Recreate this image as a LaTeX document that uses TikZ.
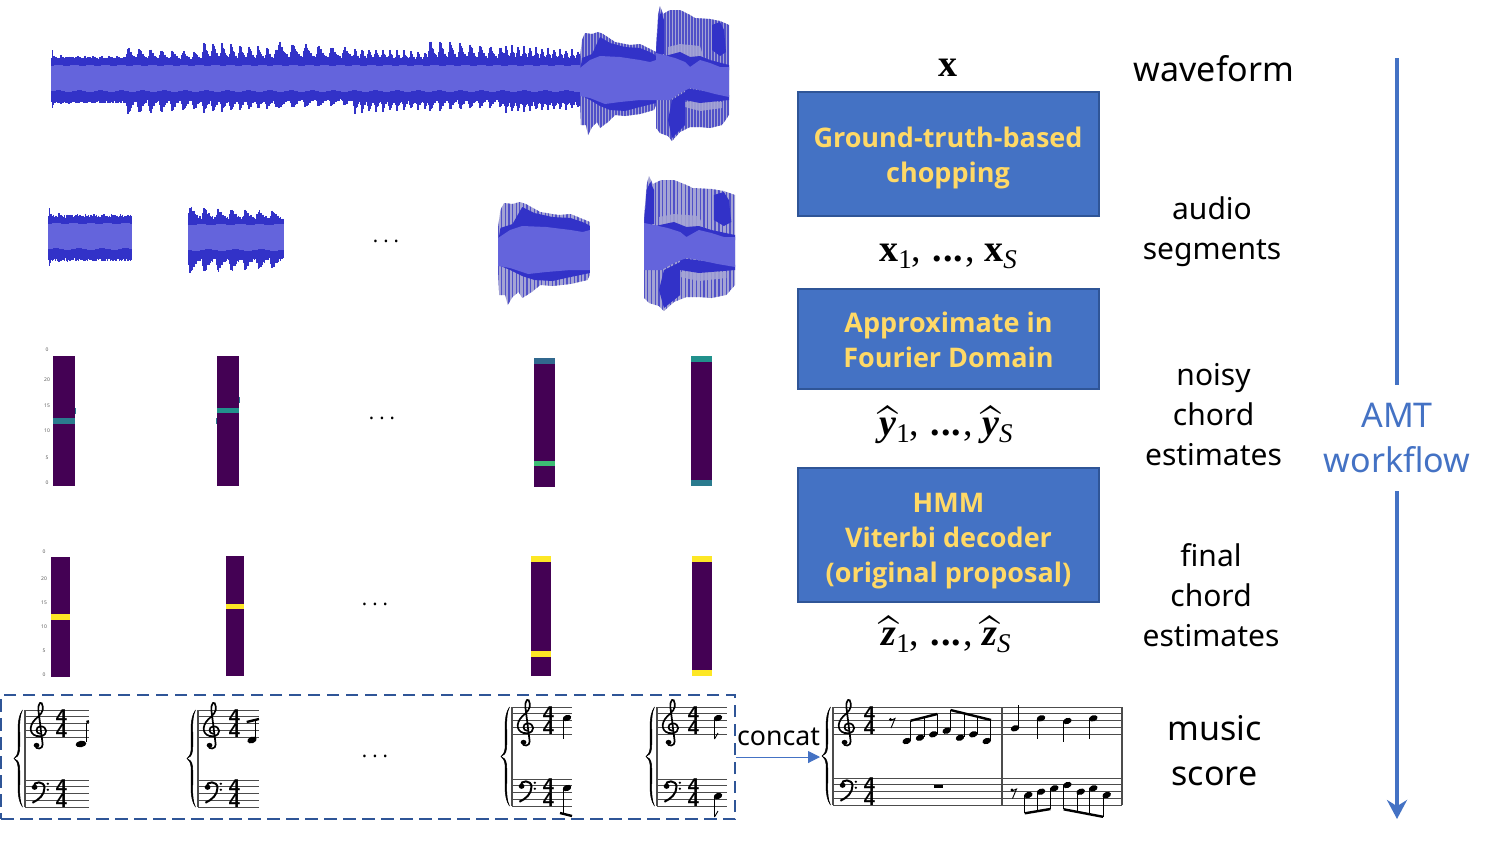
\documentclass[tikz,border=0pt]{standalone}
\usepackage{amsmath,bm}
\usepackage[no-math]{fontspec}
\setmainfont{Noto Sans}
\newfontfamily\numfont{Liberation Sans}
\newfontfamily\boxfont{Open Sans}
\newfontfamily\mfont{Liberation Serif}
\usetikzlibrary{arrows.meta}
\definecolor{wdark}{HTML}{3232C8}
\definecolor{wlight}{HTML}{6464DC}
\definecolor{wpale}{HTML}{A4A4D4}
\definecolor{wstripe}{HTML}{5050C8}
\definecolor{vpurple}{HTML}{440154}
\definecolor{vteal}{HTML}{21918C}
\definecolor{vcyan}{HTML}{2A7B8E}
\definecolor{vblue}{HTML}{31688E}
\definecolor{vgreen}{HTML}{3DBC74}
\definecolor{vyellow}{HTML}{FDE725}
\definecolor{boxblue}{HTML}{4472C4}
\definecolor{boxedge}{HTML}{2F5597}
\definecolor{boxtext}{HTML}{FFD966}
\tikzset{
  wavedark/.style={draw=wdark,line width=1.5pt},
  wavelit/.style={draw=wlight,line width=1.5pt},
  stripebar/.style={draw=wstripe,line width=1.3pt},
  stafflines/.style={draw=black!70,line width=.8pt},
  stemline/.style={draw=black,line width=.9pt},
  beamline/.style={draw=black,line width=2.4pt},
  pbox/.style={draw=boxedge,line width=2pt,fill=boxblue,text=boxtext,align=center,inner sep=0pt,minimum width=301pt,
     font=\fontsize{27}{35}\selectfont\boxfont\bfseries},
  sidelbl/.style={align=center,inner sep=0pt,font=\fontsize{30}{40}\selectfont},
  biglbl/.style={align=center,inner sep=0pt,font=\fontsize{34}{45}\selectfont},
  mathlbl/.style={inner sep=0pt,font=\fontsize{38}{40}\selectfont\mfont},
  dotslbl/.style={inner sep=0pt,font=\fontsize{20}{20}\selectfont},
  axislbl/.style={inner sep=0pt,text=black!65,font=\fontsize{5}{5}\selectfont},
}
\newcommand\subs[1]{\raisebox{-7pt}{\fontsize{27}{27}\selectfont\normalfont\mfont #1}}
\newcommand\subi[1]{\raisebox{-7pt}{\fontsize{27}{27}\selectfont\normalfont\mfont\itshape #1}}
\newcommand\mdots{\kern2pt\raisebox{0pt}{\bfseries.\kern1pt.\kern1pt.}\kern2pt}
\newcommand\bighat[1]{\setbox0\hbox{\bfseries\itshape #1}\rlap{\hbox to\wd0{\hss\raisebox{-7pt}[0pt][0pt]{\scalebox{1.5}[2]{$\widehat{\phantom{y}}$}}\hss}}\box0 }
\newcommand\dotsrow{.\kern5pt.\kern5pt.}
% one stretch of the waveform with note attacks
\newcommand\waveseg[7]{%
  \foreach \u in {0,...,#2}{%
    \pgfmathsetmacro\ph{mod(\u,#3)/#3}%
    \pgfmathsetmacro\ee{exp(-2.4*\ph)*min(1,.35+\ph*5)*(1-.35*\u/#2)}%
    \pgfmathsetmacro\tp{#4-#5*\ee-1*sin(\u*211)}%
    \pgfmathsetmacro\bt{#6+#7*\ee+1*sin(\u*137)}%
    \draw[wavedark] ({#1+\u},\tp)--({#1+\u},72) ({#1+\u},85)--({#1+\u},\bt);
  }%
  \foreach \u in {0,...,#2}{%
    \pgfmathsetmacro\lt{65.5+.7*sin((#1+\u)*23)}%
    \pgfmathsetmacro\lb{91+.8*sin((#1+\u)*17)}%
    \draw[wavelit] ({#1+\u},\lt)--({#1+\u},\lb);
  }%
}
\newcommand\segone{\draw[wavedark,line width=1pt] (52,50)--(52,108);\waveseg{52}{75}{8}{59}{4}{101}{4}}
\newcommand\segtwo{\waveseg{127}{76}{11}{61}{19}{98}{24}}
\newcommand\segthree{\waveseg{203}{75}{9}{61}{27}{99}{19}}
\newcommand\segfour{\waveseg{278}{76}{13}{60}{25}{98}{15}}
\newcommand\segfive{\waveseg{354}{75}{7}{61}{18}{99}{20}}
\newcommand\segsix{\waveseg{429}{76}{10}{61}{30}{98}{19}}
\newcommand\segseven{\waveseg{505}{75}{6}{61}{23}{100}{18}}
\newcommand\stripes[2]{\foreach \u in {#1,...,#2}{\draw[stripebar] (\u,0)--(\u,150);}}
\newcommand\segeight{%
  \begin{scope}
    \clip (580,58)--(582,40)--(585,33)--(592,34)--(598,32)--(603,34)--(615,42)--(630,45)--(640,44)--(652,50)--(656,52)--(656,105)--(654,110)--(640,114)--(625,116)--(615,115)--(608,122)--(600,128)--(597,122)--(592,127)--(588,135)--(586,125)--(581,125)--(580,100)--cycle;
    \fill[wpale] (578,0) rectangle (657,150);
    \stripes{580,583}{655}
  \end{scope}
  \fill[wdark] (580,72)--(582,58)--(592,54)--(600,37)--(610,43)--(625,47)--(640,48)--(652,53)--(656,56)--(656,65)--(600,65)--(580,72)--cycle;
  \fill[wdark] (580,95)--(590,100)--(600,106)--(610,110)--(625,111)--(640,107)--(656,103)--(656,95)--(600,95)--cycle;
  \fill[wlight] (580,68)--(590,60)--(600,56)--(620,57)--(640,60)--(650,62)--(656,60)--(656,100)--(640,100)--(620,102)--(605,104)--(590,98)--(580,96)--cycle;
}
\newcommand\segnine{%
  \begin{scope}
    \clip (656,50)--(658,15)--(660,6)--(663,14)--(670,10)--(680,10)--(690,15)--(695,18)--(710,19)--(720,21)--(729,25)--(729,115)--(722,125)--(710,128)--(700,127)--(690,127)--(680,132)--(672,141)--(668,136)--(660,133)--(656,128)--(656,100)--cycle;
    \fill[wpale] (655,0) rectangle (730,150);
    \stripes{656,659}{729}
  \end{scope}
  \fill[wpale,opacity=.85] (668,47)--(680,44)--(700,46)--(705,62)--(690,58)--(680,54)--(668,57)--cycle;
  \fill[wpale,opacity=.85] (685,102)--(700,100)--(722,102)--(722,108)--(700,111)--(685,107)--cycle;
  \fill[wdark] (656,56)--(658,20)--(661,12)--(664,20)--(664,54)--cycle;
  \fill[wdark] (712,25)--(720,22)--(724,30)--(726,52)--(720,56)--(712,50)--cycle;
  \fill[wdark] (665,56)--(680,52)--(690,57)--(700,56)--(710,60)--(729,65)--(729,70)--(690,70)--(665,62)--cycle;
  \fill[wdark] (672,100)--(685,92)--(685,125)--(678,132)--(672,138)--(668,120)--cycle;
  \fill[wdark] (685,88)--(729,95)--(729,100)--(700,103)--(685,100)--cycle;
  \fill[wlight] (656,53)--(664,55)--(675,58)--(685,62)--(690,67)--(700,60)--(710,63)--(720,67)--(729,67)--(729,97)--(715,94)--(700,90)--(690,88)--(680,93)--(670,100)--(656,100)--cycle;
}
% music glyphs drawn as shapes
\newcommand\trebleglyph[2]{\begin{scope}[shift={(#1,#2)},xscale=1.22]
  \draw[line width=1.7pt,line cap=round] (1,3.5) .. controls (-3,3.5) and (-3,-3.5) .. (1,-4) .. controls (7,-4) and (8,5) .. (1,6) .. controls (-8,6.5) and (-9,-4) .. (-3,-11) .. controls (1,-15) and (4,-19) .. (3,-24) .. controls (2.5,-30) and (-1,-28) .. (-.5,-20) -- (3,14) .. controls (3.5,19) and (-3,20) .. (-3,15);
  \fill (-2,15) circle[radius=2.4];
\end{scope}}
\newcommand\bassglyph[2]{\begin{scope}[shift={(#1,#2)},xscale=1.1]
  \draw[line width=2pt] (-5,0) .. controls (-5,-6) and (5,-6) .. (5,1) .. controls (5,8) and (0,13) .. (-6,16);
  \fill (-4,.5) circle[radius=2.6] (8,-3) circle[radius=1.2] (8,3) circle[radius=1.2];
\end{scope}}
\newcommand\braceglyph[3]{\begin{scope}[shift={(#1,0)}]
  \pgfmathsetmacro\mm{(#2+#3)/2}
  \filldraw[line width=.5pt] (-2.5,#2) .. controls (-9.5,{#2+10}) and (-6,{\mm-22}) .. (-7,{\mm-8}) .. controls (-7.5,{\mm-4}) and (-9,{\mm-1}) .. (-11,\mm) .. controls (-9,{\mm+1}) and (-7.5,{\mm+4}) .. (-7,{\mm+8}) .. controls (-6,{\mm+22}) and (-9.5,{#3-10}) .. (-2.5,#3) .. controls (-7.5,{#3-10}) and (-4,{\mm+22}) .. (-5.5,{\mm+8}) .. controls (-6,{\mm+3}) and (-8,{\mm+1}) .. (-11,\mm) .. controls (-8,{\mm-1}) and (-6,{\mm-3}) .. (-5.5,{\mm-8}) .. controls (-4,{\mm-22}) and (-7.5,{#2+10}) .. (-2.5,#2) -- cycle;
\end{scope}}
% #1 name, #2 left, #3 right, #4 top of treble staff, #5 top of bass staff
\newcommand\grandstaff[5]{%
  \foreach \k in {0,...,4}{%
    \draw[stafflines] (#2,{#4+\k*6.75})--(#3,{#4+\k*6.75});
    \draw[stafflines] (#2,{#5+\k*6.75})--(#3,{#5+\k*6.75});
  }%
  \draw[draw=black!70,line width=1.3pt] (#2,#4)--(#2,{#5+27});
  \braceglyph{#2}{#4}{#5+27}
  \trebleglyph{#2+14}{#4+20.25}
  \bassglyph{#2+14}{#5+6.75}
  \foreach \n/\off in {a/#4+6.75,b/#4+20.25,c/#5+6.75,d/#5+20.25}{%
    \pgfmathsetmacro\yy{\off}
    \node[inner sep=0pt,font=\fontsize{20}{20}\selectfont\numfont\bfseries] (#1\n) at (#2+36.5,\yy) {4};
  }%
}
\newcommand\nh[2]{\fill (#1,#2) ellipse[x radius=4.4,y radius=3,rotate=20];}
\newcommand\chordcol[4]{\fill[vpurple] (#1,#3) rectangle (#2,#4);}
\newcommand\band[5]{\fill[#5] (#1,{#3-#4}) rectangle (#2,{#3+#4});}
\begin{document}
\begin{tikzpicture}[x=1pt,y=-1pt]
\path[use as bounding box,fill=white] (0,0) rectangle (1493,841);
% full waveform
\segone\segtwo\segthree\segfour\segfive\segsix\segseven\segeight\segnine
% audio segments
\begin{scope}[shift={(-8.2,158)},xscale=1.1]\segone\end{scope}
\begin{scope}[shift={(31.5,159)},xscale=1.24]\segtwo\end{scope}
\begin{scope}[shift={(-203.8,170)},xscale=1.21]\segeight\end{scope}
\begin{scope}[shift={(-174,170)},xscale=1.247]\segnine\end{scope}
\node[dotslbl] (dots1) at (386,241) {\dotsrow};
\node[dotslbl] (dots2) at (382,418) {\dotsrow};
\node[dotslbl] (dots3) at (375,604) {\dotsrow};
\node[dotslbl] (dots4) at (375,756) {\dotsrow};
% noisy chord estimates
\chordcol{53}{75}{356}{486}
\band{53}{75}{421}{2.7}{vcyan}
\band{75}{76}{411}{2.7}{vcyan}
\chordcol{217}{239}{356}{486}
\band{217}{239}{410.5}{2.7}{vteal}
\band{239}{240}{400}{2.7}{vcyan}
\band{216}{217}{421}{2.7}{vcyan}
\chordcol{534}{555}{358}{487}
\band{534}{555}{361}{2.7}{vblue}
\band{534}{555}{463.5}{2.7}{vgreen}
\chordcol{691}{712}{356}{486}
\band{691}{712}{359}{2.7}{vteal}
\band{691}{712}{483}{2.7}{vcyan}
\foreach \t/\yy [count=\i] in {0/350,20/380,15/406,10/431,5/458,0/483}{\node[axislbl] (ax\i) at (47,\yy) {\t};}
% final chord estimates
\chordcol{51}{70}{557}{677}
\band{51}{70}{617}{2.7}{vyellow}
\chordcol{226}{244}{556}{676}
\band{226}{244}{606.5}{2.7}{vyellow}
\chordcol{531}{551}{556}{676}
\band{531}{551}{559}{2.7}{vyellow}
\band{531}{551}{654}{2.7}{vyellow}
\chordcol{692}{712}{556}{676}
\band{692}{712}{559}{2.7}{vyellow}
\band{692}{712}{673}{2.7}{vyellow}
\foreach \t/\yy [count=\i] in {0/552,20/579,15/603,10/627,5/651,0/675}{\node[axislbl] (bx\i) at (44,\yy) {\t};}
% score fragments
\grandstaff{fa}{25}{89}{710}{780}
\fill (81,744) ellipse[x radius=5.4,y radius=3.2,rotate=10];
\draw[stemline] (86.5,742)--(86.5,723);
\draw[beamline] (86.5,722)--(89,721.3);
\grandstaff{fb}{198}{259}{710}{780}
\fill (252,740) ellipse[x radius=4.8,y radius=3.2,rotate=20];
\draw[stemline] (255.5,738)--(255.5,721);
\draw[beamline] (246.7,722)--(259,719);
\grandstaff{fc}{512}{572}{707}{779}
\nh{567}{718}\draw[stemline] (563,719)--(563,739);
\nh{567}{788}\draw[stemline] (563,789)--(563,813);
\draw[beamline] (560,813)--(572,816);
\grandstaff{fd}{657}{727}{707}{779}
\nh{718}{718}\draw[stemline] (714.5,719)--(714.5,739) (714.5,739)--(718,733);
\nh{718}{796}\draw[stemline] (714.5,797)--(714.5,817) (714.5,817)--(718,811);
% concatenated score
\grandstaff{sc}{833}{1122}{707}{778}
\draw[draw=black!70,line width=1.3pt] (1002,707)--(1002,805) (1122,707)--(1122,805);
\nh{906.7}{741}\nh{920}{737.7}\nh{933.3}{734.3}\nh{946.7}{730.7}\nh{960}{737.7}\nh{973.3}{734.3}\nh{986.7}{741}
\draw[stemline] (910.7,741)--(910.7,720.7) (924,737)--(924,717.4) (937.3,734)--(937.3,714) (950.5,730)--(950.5,710) (964,737)--(964,713.2) (977,734)--(977,716.5) (990.7,741)--(990.7,720);
\draw[beamline] (910.7,720.7)--(937.3,714);
\draw[beamline] (950.5,710)--(991,720);
\fill (890.5,719.5) circle[radius=1.6];
\draw[stemline] (890.5,720.5) -- (895,718.5)--(891,728);
\nh{1015}{728.3}\nh{1041}{718.3}\nh{1067.3}{721}\nh{1093.3}{718.3}
\draw[stemline] (1018.7,728)--(1018.7,705) (1037.5,718.3)--(1037.5,739.3) (1063.7,721)--(1063.7,741.7) (1089.7,718.3)--(1089.7,739.3);
\fill (934,785) rectangle (943,788.4);
\fill (1012,790) circle[radius=1.6];
\draw[stemline] (1012,791)--(1016.5,789)--(1012.5,798.5);
\nh{1028.3}{795}\nh{1041}{791.7}\nh{1054.3}{788.3}\nh{1067.3}{785}\nh{1080.7}{791.7}\nh{1093.3}{788.3}\nh{1106.7}{795}
\draw[stemline] (1024.7,795)--(1024.7,813.3) (1037.4,792)--(1037.4,811) (1050.4,788)--(1050.4,809) (1063.7,785)--(1063.7,809.3) (1077.1,792)--(1077.1,812) (1089.7,788)--(1089.7,814.3) (1103.1,795)--(1103.1,816.8);
\draw[beamline] (1024.7,813.3)--(1050.4,809);
\draw[beamline] (1063.7,809.3)--(1103.1,816.8);
% dashed group and concat
\node[draw=boxedge,line width=2pt,dash pattern=on 12.5pt off 6.5pt,minimum width=734pt,minimum height=124pt,inner sep=0pt] (chunks) at (368,757) {};
\coordinate (scorein) at (820,757);
\draw[boxblue,line width=1pt,-{Triangle[length=12pt,width=12pt]}] (chunks.east)--(scorein);
\node[inner sep=0pt,font=\fontsize{26.7}{30}\selectfont] (concat) at (778.5,737) {concat};
% middle column
\node[mathlbl] (xx) at (948,68) {\bfseries x};
\node[pbox,minimum height=124pt] (chop) at (948,154) {\rule{0pt}{28pt}Ground-truth-based\\chopping};
\node[mathlbl] (xs) at (948,256) {{\bfseries x}\subs{1}, \mdots, {\bfseries x}\subi{S}};
\node[pbox,minimum height=100pt] (fourier) at (948.5,339) {\rule{0pt}{23pt}Approximate in\\Fourier Domain};
\node[mathlbl] (ys) at (946,431) {\bighat{y}\subs{1}, \mdots, \bighat{y}\subi{S}};
\node[pbox,minimum height=134pt] (hmm) at (948.5,535) {\rule{0pt}{31pt}HMM\\Viterbi decoder\\(original proposal)};
\node[mathlbl] (zs) at (946,640) {\bighat{z}\subs{1}, \mdots, \bighat{z}\subi{S}};
% right column
\node[biglbl] (tw) at (1214,69) {waveform};
\node[sidelbl] (ta) at (1212,232) {audio\\segments};
\node[sidelbl] (tn) at (1213.5,415) {noisy\\chord\\estimates};
\node[sidelbl] (tf) at (1211,595) {final\\chord\\estimates};
\node[biglbl] (tm) at (1214.5,751) {music\\score};
% workflow arrow
\node[biglbl,text=boxblue] (amt) at (1397,438) {AMT\\workflow};
\coordinate (flowtop) at (1397,58);
\coordinate (flowend) at (1397,819);
\draw[boxblue,line width=3.5pt] (flowtop)--(1397,385);
\draw[boxblue,line width=3.5pt,-{Stealth[length=19pt,width=20pt]}] (1397,491)--(flowend);
\end{tikzpicture}
\end{document}
